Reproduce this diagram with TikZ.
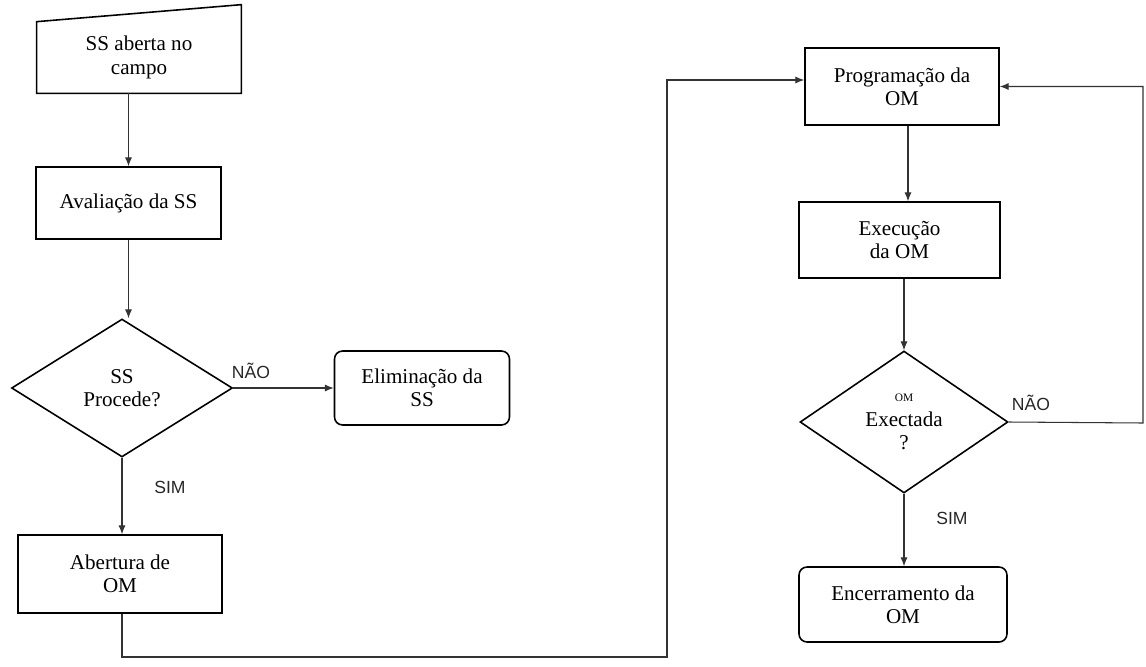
\documentclass[tikz,border=0pt]{standalone}
\usepackage{fontspec}
\setmainfont{Liberation Serif}
\newfontfamily\labelfont{Liberation Sans}
\usetikzlibrary{shapes.geometric,arrows.meta,calc}

\tikzset{
  boxfont/.style={font=\fontsize{12}{13.2}\selectfont},
  box/.style={draw=black, line width=0.9pt, rectangle, align=center, inner sep=2pt, boxfont},
  endbox/.style={box, rounded corners=0.16cm},
  decision/.style={draw=black, line width=0.9pt, diamond, align=center, inner sep=0pt, boxfont},
  conn/.style={draw=black!80, line width=0.6pt},
  arr/.style={conn, -{Latex[length=5pt,width=4pt]}},
  answer/.style={font=\labelfont\fontsize{10}{12}\selectfont, text=black!85, inner sep=0pt},
}

\begin{document}
\begin{tikzpicture}[x=0.02cm, y=-0.02cm]
\useasboundingbox (0,0) rectangle (1146,666);

% ---- left column ----
% manual input: slanted top edge
\node[align=center, minimum width=4.08cm, minimum height=1.42cm, inner sep=0pt, boxfont]
  (ss) at (139,57.5) {SS aberta no\\campo};
\draw[line width=0.9pt, line join=miter]
  (ss.south west) -- (ss.south east) -- ($(ss.north east)+(0,-17)$) -- (ss.north west) -- cycle;

\node[box, minimum width=3.70cm, minimum height=1.44cm] (aval) at (128.5,203) {Avaliação da SS};

\node[decision, minimum width=4.42cm, minimum height=2.76cm] (proc) at (122,388) {SS\\Procede?};

\node[endbox, minimum width=3.50cm, minimum height=1.48cm] (elim) at (422,388) {Eliminação da\\SS};

\node[box, minimum width=4.08cm, minimum height=1.56cm] (abert) at (120,574) {Abertura de\\OM};

% ---- right column ----
\node[box, minimum width=3.88cm, minimum height=1.54cm] (prog) at (902,86.5) {Programação da\\OM};

\node[box, minimum width=4.02cm, minimum height=1.52cm] (exec) at (899.5,240) {Execução\\da OM};

\node[decision, minimum width=4.16cm, minimum height=2.84cm] (omx) at (904,422)
  {{\fontsize{6.5}{7}\selectfont OM}\\[1pt]Exectada\\?};

\node[endbox, minimum width=4.16cm, minimum height=1.50cm] (enc) at (903,604.5) {Encerramento da\\OM};

% ---- answer labels ----
\node[answer] (nao1) at (251,371) {NÃO};
\node[answer] (sim1) at (170,487) {SIM};
\node[answer] (nao2) at (1031,403) {NÃO};
\node[answer] (sim2) at (952,518) {SIM};

% ---- route points ----
\coordinate (low) at (667,657);
\coordinate (up) at (667,80);
\coordinate (back) at (1143,423);

% ---- connectors ----
\draw[arr] (ss.south -| aval.north) -- (aval.north);
\draw[arr] (aval.south) -- (aval.south |- proc.north);
\draw[arr] (proc.east) -- (proc.east -| elim.west);
\draw[arr] (proc.south) -- (proc.south |- abert.north);
\draw[arr] (abert.south -| proc.south) |- (low) -- (up) -- (up -| prog.west);
\draw[arr] (prog.south -| 908,0) -- (exec.north -| 908,0);
\draw[arr] (exec.south -| omx.north) -- (omx.north);
\draw[arr] (omx.east) -- (back) |- (prog.east);
\draw[arr] (omx.south) -- (omx.south |- enc.north);
\end{tikzpicture}
\end{document}
